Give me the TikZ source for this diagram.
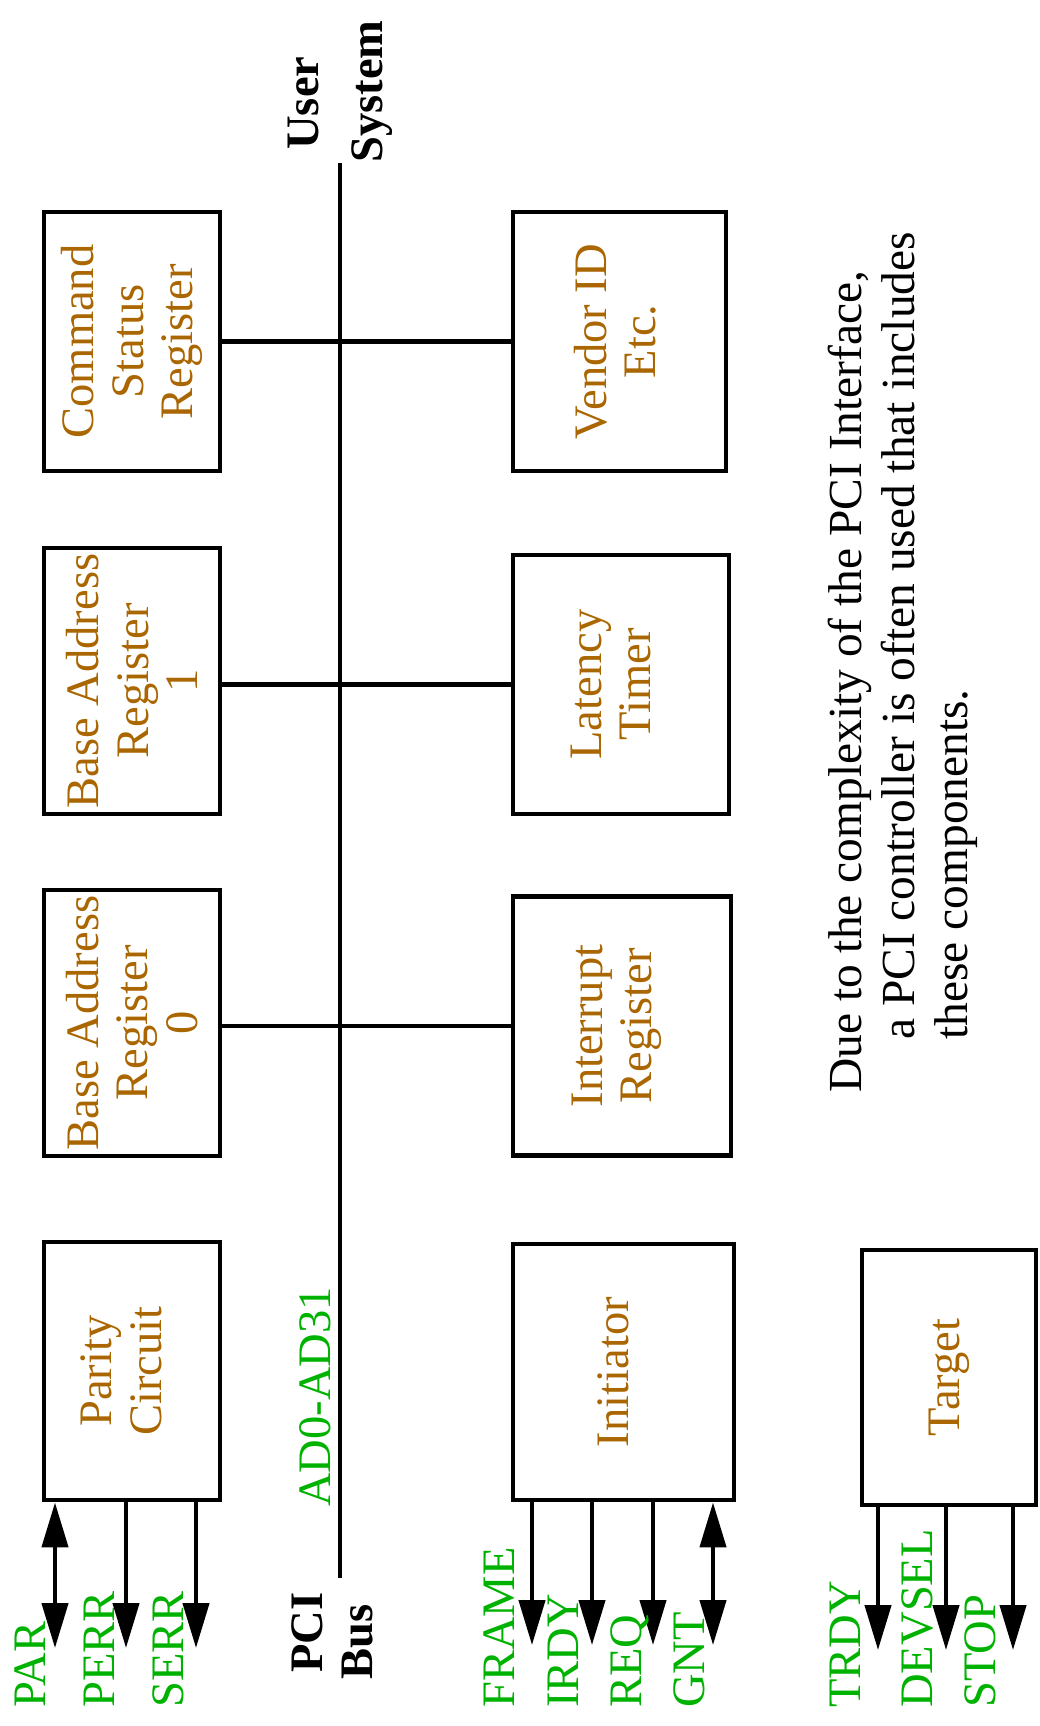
\documentclass[tikz,border=0pt]{standalone}
\usepackage{fontspec}
\setmainfont{Liberation Serif}
\usepackage{xcolor}
\usepackage{tikz}
\usetikzlibrary{positioning,arrows.meta}
\definecolor{regbrown}{RGB}{170,102,0}
\definecolor{siggreen}{RGB}{0,178,0}
\newlength{\unitpx}
\setlength{\unitpx}{0.02cm}
\newcommand{\lowpad}[1]{\rule[-#1\unitpx]{0pt}{#1\unitpx}}
\tikzstyle{regbox}=[rectangle, draw=black, line width=2.8pt, rotate=90, inner sep=0pt,
        text=regbrown, align=center, font=\fontsize{26.5}{28}\selectfont]
\tikzstyle{signal}=[rotate=90, anchor=base west, inner sep=0pt, text=siggreen,
        font=\fontsize{26.5}{28}\selectfont]
\tikzstyle{busname}=[rotate=90, anchor=base west, inner sep=0pt,
        font=\fontsize{26.5}{28}\selectfont\bfseries]
\tikzstyle{wire}=[line width=2.5pt]
\tikzstyle{outsig}=[line width=2.5pt, -{Triangle[length=0.9cm,width=0.52cm]}]
\tikzstyle{bisig}=[line width=2.5pt, {Triangle[length=0.9cm,width=0.52cm]}-{Triangle[length=0.9cm,width=0.52cm]}]

\begin{document}
\begin{tikzpicture}[x=0.02cm, y=-0.02cm]
        \useasboundingbox (0,0) rectangle (1039,1726);

        \node (csr) [regbox, minimum width=259\unitpx, minimum height=176\unitpx] at (132,341.5)
        {Command\\Status\\Register};
        \node (bar1) [regbox, minimum width=266\unitpx, minimum height=176\unitpx] at (132,681)
        {Base Address\\Register\\1};
        \node (bar0) [regbox, minimum width=266\unitpx, minimum height=176\unitpx] at (132,1023)
        {Base Address\\Register\\0};
        \node (parity) [regbox, minimum width=258\unitpx, minimum height=176\unitpx] at (132,1371)
        {Parity\\Circuit\lowpad{22}};
        \node (vendor) [regbox, minimum width=259\unitpx, minimum height=213\unitpx] at (619.5,341.5)
        {Vendor ID\\Etc.\lowpad{10}};
        \node (latency) [regbox, minimum width=259\unitpx, minimum height=216\unitpx] at (621,684.5)
        {Latency\\Timer\lowpad{20}};
        \node (intr) [regbox, minimum width=259\unitpx, minimum height=218\unitpx] at (622,1026)
        {Interrupt\\Register\lowpad{20}};
        \node (init) [regbox, minimum width=256\unitpx, minimum height=221\unitpx] at (623.5,1372)
        {Initiator\lowpad{20}};
        \node (target) [regbox, minimum width=255\unitpx, minimum height=174\unitpx] at (949,1377.5)
        {Target};

        \coordinate (busTop) at (340,163);
        \coordinate (busBot) at (340,1578);
        \draw[wire] (busTop) -- (busBot);
        \draw[wire] (csr.south) -- (vendor.north);
        \draw[wire] (bar1.south |- latency.north) -- (latency.north);
        \draw[wire] (bar0.south |- intr.north) -- (intr.north);

        \node (user) [busname] at (318,150) {User};
        \node (system) [busname] at (382,163) {System};
        \node (pci) [busname] at (322,1673) {PCI};
        \node (bus) [busname] at (372,1680) {Bus};
        \node (ad) [signal] at (330,1507) {AD0-AD31};

        \coordinate (parEnd) at (55,1648);
        \coordinate (perrEnd) at (126,1648);
        \coordinate (serrEnd) at (196,1648);
        \draw[bisig] (parity.west -| parEnd) -- (parEnd);
        \draw[outsig] (parity.west -| perrEnd) -- (perrEnd);
        \draw[outsig] (parity.west -| serrEnd) -- (serrEnd);

        \coordinate (frameEnd) at (532,1645);
        \coordinate (irdyEnd) at (592,1645);
        \coordinate (reqEnd) at (653,1645);
        \coordinate (gntEnd) at (713,1645);
        \draw[outsig] (init.west -| frameEnd) -- (frameEnd);
        \draw[outsig] (init.west -| irdyEnd) -- (irdyEnd);
        \draw[outsig] (init.west -| reqEnd) -- (reqEnd);
        \draw[bisig] (init.west -| gntEnd) -- (gntEnd);

        \coordinate (trdyEnd) at (878,1650);
        \coordinate (devselEnd) at (946,1650);
        \coordinate (stopEnd) at (1013,1650);
        \draw[outsig] (target.west -| trdyEnd) -- (trdyEnd);
        \draw[outsig] (target.west -| devselEnd) -- (devselEnd);
        \draw[outsig] (target.west -| stopEnd) -- (stopEnd);

        \node (lPAR) [signal] at (45,1708) {PAR};
        \node (lPERR) [signal] at (114,1708) {PERR};
        \node (lSERR) [signal] at (183,1708) {SERR};
        \node (lFRAME) [signal] at (514,1708) {FRAME};
        \node (lIRDY) [signal] at (578,1708) {IRDY};
        \node (lREQ) [signal] at (641,1708) {REQ};
        \node (lGNT) [signal] at (704,1708) {GNT};
        \node (lTRDY) [signal] at (860,1708) {TRDY};
        \node (lDEVSEL) [signal] at (932,1708) {DEVSEL};
        \node (lSTOP) [signal] at (995,1708) {STOP};

        \node (note) [rotate=90, anchor=base west, inner sep=0pt, align=left,
          font=\fontsize{27}{30}\selectfont] at (967,1093)
        {Due to the complexity of the PCI Interface,\\
         \hspace*{53\unitpx}a PCI controller is often used that includes\\
         \hspace*{53\unitpx}these components.};
      \end{tikzpicture}
\end{document}
